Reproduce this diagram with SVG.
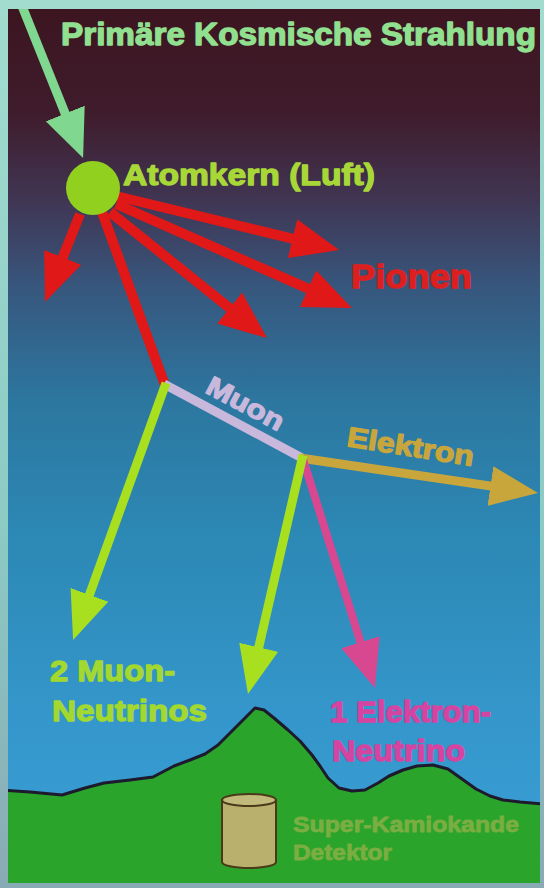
<svg xmlns="http://www.w3.org/2000/svg" width="544" height="888" viewBox="0 0 544 888">
  <defs>
    <linearGradient id="frame" x1="0" y1="0" x2="0" y2="1">
      <stop offset="0" stop-color="#a2dccf"/>
      <stop offset="0.6" stop-color="#8ccac4"/>
      <stop offset="1" stop-color="#88aab4"/>
    </linearGradient>
    <linearGradient id="sky" x1="0" y1="0" x2="0" y2="1">
      <stop offset="0" stop-color="#3c1520"/>
      <stop offset="0.12" stop-color="#3f1c2c"/>
      <stop offset="0.22" stop-color="#403654"/>
      <stop offset="0.32" stop-color="#37577e"/>
      <stop offset="0.45" stop-color="#2c77a0"/>
      <stop offset="0.6" stop-color="#2c88b4"/>
      <stop offset="0.8" stop-color="#3496ca"/>
      <stop offset="1" stop-color="#3aa0d8"/>
    </linearGradient>
    <clipPath id="panel">
      <rect x="8" y="9" width="532" height="874"/>
    </clipPath>
    <!-- arrowheads: tip sits 30px beyond the shaft end -->
    <marker id="headPrimary" viewBox="0 0 48 42" refX="18" refY="21" markerWidth="48" markerHeight="42" markerUnits="userSpaceOnUse" orient="auto">
      <path d="M0,0 L48,21 L0,42 Z" fill="#80d890"/>
    </marker>
    <marker id="headRed" viewBox="0 0 48 40" refX="18" refY="20" markerWidth="48" markerHeight="40" markerUnits="userSpaceOnUse" orient="auto">
      <path d="M0,0 L48,20 L0,40 Z" fill="#e01818"/>
    </marker>
    <marker id="headGold" viewBox="0 0 48 40" refX="18" refY="20" markerWidth="48" markerHeight="40" markerUnits="userSpaceOnUse" orient="auto">
      <path d="M0,0 L48,20 L0,40 Z" fill="#c8a63c"/>
    </marker>
    <marker id="headLime" viewBox="0 0 48 40" refX="18" refY="20" markerWidth="48" markerHeight="40" markerUnits="userSpaceOnUse" orient="auto">
      <path d="M0,0 L48,20 L0,40 Z" fill="#a8e020"/>
    </marker>
    <marker id="headMagenta" viewBox="0 0 48 40" refX="18" refY="20" markerWidth="48" markerHeight="40" markerUnits="userSpaceOnUse" orient="auto">
      <path d="M0,0 L48,20 L0,40 Z" fill="#d84890"/>
    </marker>
  </defs>
  <style>
    text { font-family: "Liberation Sans", Arial, sans-serif; font-weight: bold; stroke-width: 1.3px; stroke-linejoin: round; }
    .title { fill: #90e090; stroke: #90e090; font-size: 31px; }
    .nucleusLabel { fill: #a8d838; stroke: #a8d838; font-size: 30px; }
    .pion { fill: #dc2020; stroke: #dc2020; font-size: 33px; }
    .muonLabel { fill: #c8b8dc; stroke: #c8b8dc; font-size: 27px; }
    .electronLabel { fill: #c8a63c; stroke: #c8a63c; font-size: 28px; }
    .numuLabel { fill: #a2d830; stroke: #a2d830; font-size: 30px; }
    .nueLabel { fill: #d444a0; stroke: #d444a0; font-size: 30px; }
    .detLabel { fill: #7aae42; stroke: #7aae42; font-size: 22px; stroke-width: 0.8px; }
    .track { fill: none; stroke-linecap: butt; }
    .primary { stroke: #80d890; stroke-width: 9; }
    .red { stroke: #e01818; stroke-width: 10; }
    .muon { stroke: #c8b8dc; stroke-width: 9; }
    .gold { stroke: #c8a63c; stroke-width: 9; }
    .lime { stroke: #a8e020; stroke-width: 9; }
    .magenta { stroke: #d84890; stroke-width: 8; }
  </style>

  <!-- frame and sky -->
  <rect x="0" y="0" width="544" height="888" fill="url(#frame)"/>
  <rect x="8" y="9" width="532" height="874" fill="url(#sky)"/>

  <g clip-path="url(#panel)">
    <!-- ground with mountain profile -->
    <g id="ground">
      <path d="M0,790 L30,792 L62,795 L85,788 L104,783 L130,780 L153,777 L174,766 L190,760 L205,754 L218,745 L230,733 L243,720 L255,708 L264,710 L274,718 L288,730 L300,741 L312,755 L320,766 L328,778 L339,788 L352,791 L365,790 L378,783 L389,776 L403,770 L417,766 L433,765 L448,769 L462,779 L476,789 L490,796 L503,800 L520,802 L544,804 L544,888 L0,888 Z" fill="#2ba42b" stroke="#1c1a2c" stroke-width="3" stroke-linejoin="round"/>
    </g>

    <!-- detector tank -->
    <g id="detector">
      <path d="M222,800 L222,862 A27,6 0 0 0 276,862 L276,800 Z" fill="#b9b06e" stroke="#4a3a1a" stroke-width="2"/>
      <ellipse cx="249" cy="800" rx="27" ry="6" fill="#c2ba7a" stroke="#4a3a1a" stroke-width="2"/>
      <text class="detLabel" x="293" y="832" textLength="226" lengthAdjust="spacingAndGlyphs">Super-Kamiokande</text>
      <text class="detLabel" x="293" y="860" textLength="99" lengthAdjust="spacingAndGlyphs">Detektor</text>
    </g>

    <!-- particle tracks -->
    <g id="connectors">
      <line class="track primary" x1="22" y1="6" x2="71.9" y2="130.2" marker-end="url(#headPrimary)"/>
      <line class="track red" x1="80" y1="214" x2="56.1" y2="274.1" marker-end="url(#headRed)"/>
      <line class="track red" x1="110" y1="212" x2="243.6" y2="319.3" marker-end="url(#headRed)"/>
      <line class="track red" x1="116" y1="204" x2="324.5" y2="295.9" marker-end="url(#headRed)"/>
      <line class="track red" x1="116" y1="196" x2="309.9" y2="242.9" marker-end="url(#headRed)"/>
      <line class="track red" x1="102" y1="212" x2="166" y2="388"/>
      <line class="track muon" x1="164" y1="384" x2="302" y2="458"/>
      <line class="track gold" x1="300" y1="458" x2="508.3" y2="488.6" marker-end="url(#headGold)"/>
      <line class="track magenta" x1="302" y1="456" x2="365.9" y2="659.4" marker-end="url(#headMagenta)"/>
      <line class="track lime" x1="166" y1="383" x2="83.3" y2="611.8" marker-end="url(#headLime)"/>
      <line class="track lime" x1="303" y1="455" x2="254.7" y2="664.8" marker-end="url(#headLime)"/>
    </g>

    <!-- labels -->
    <g id="primary-label">
      <text class="title" x="61" y="45" textLength="475" lengthAdjust="spacingAndGlyphs">Primäre Kosmische Strahlung</text>
    </g>

    <g id="nucleus">
      <circle cx="93" cy="188" r="27" fill="#92d020"/>
      <text class="nucleusLabel" x="123" y="185" textLength="252" lengthAdjust="spacingAndGlyphs">Atomkern (Luft)</text>
    </g>

    <g id="pions">
      <text class="pion" x="351" y="288" textLength="121" lengthAdjust="spacingAndGlyphs">Pionen</text>
    </g>

    <g id="muon">
      <text class="muonLabel" transform="translate(204,392) rotate(28)" x="0" y="0" textLength="84" lengthAdjust="spacingAndGlyphs">Muon</text>
    </g>

    <g id="electron">
      <text class="electronLabel" transform="translate(346,446) rotate(9)" x="0" y="0" textLength="128" lengthAdjust="spacingAndGlyphs">Elektron</text>
    </g>

    <g id="muon-neutrinos">
      <text class="numuLabel" x="50" y="681" textLength="125" lengthAdjust="spacingAndGlyphs">2 Muon-</text>
      <text class="numuLabel" x="52" y="721" textLength="155" lengthAdjust="spacingAndGlyphs">Neutrinos</text>
    </g>

    <g id="electron-neutrino">
      <text class="nueLabel" x="330" y="722" textLength="161" lengthAdjust="spacingAndGlyphs">1 Elektron-</text>
      <text class="nueLabel" x="332" y="761" textLength="133" lengthAdjust="spacingAndGlyphs">Neutrino</text>
    </g>
  </g>
</svg>
